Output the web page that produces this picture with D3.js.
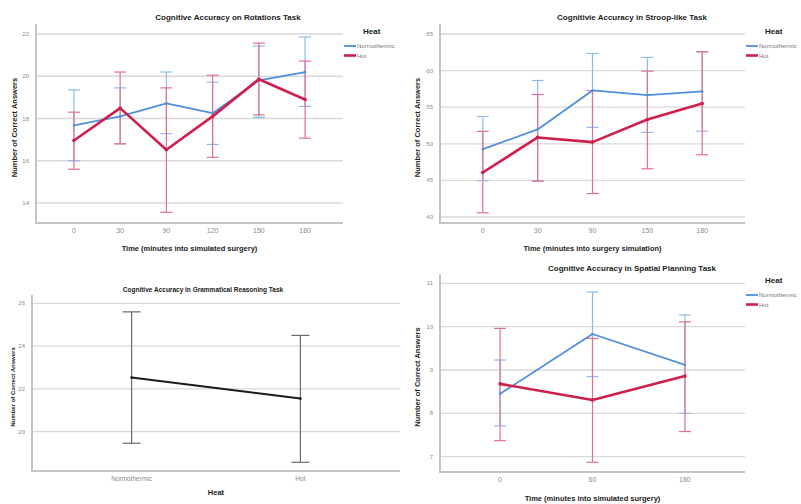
<!DOCTYPE html>
<html>
<head>
<meta charset="utf-8">
<script src="https://cdn.jsdelivr.net/npm/d3@7"></script>
<style>
  body { margin: 0; background: #fff; }
  svg { font-family: "Liberation Sans", Arial, sans-serif; }
  .grid line { stroke: #d9d9d9; stroke-width: 1.3; }
  .frame { stroke: #c4c4c4; stroke-width: 2; fill: none; }
  .tick-label { fill: #8a8a8a; font-size: 6px; }
  .title { font-weight: bold; font-size: 8px; fill: #222; }
  .axis-label { font-weight: bold; font-size: 7.5px; fill: #222; }
  .legend-title { font-weight: bold; font-size: 8px; fill: #222; }
  .legend-text { font-size: 6px; fill: #777; }
</style>
</head>
<body>
<script>
// ---- data ----
const heatGroups = ['Normothermic', 'Hot'];

// Rotations task
const rotTimes = ['0', '30', '90', '120', '150', '180'];
const rotNormoMean = [17.67, 18.1, 18.72, 18.25, 19.8, 20.2];
const rotNormoLow = [16.0, 16.8, 17.28, 16.77, 18.05, 18.57];
const rotNormoHigh = [19.35, 19.45, 20.2, 19.72, 21.43, 21.86];
const rotHotMean = [16.96, 18.49, 16.52, 18.1, 19.86, 18.9];
const rotHotLow = [15.6, 16.8, 13.56, 16.16, 18.17, 17.07];
const rotHotHigh = [18.3, 20.2, 19.45, 20.05, 21.57, 20.72];
const rotTicks = [14, 16, 18, 20, 22];

// Stroop-like task
const stroopTimes = ['0', '30', '90', '150', '180'];
const stroopNormoMean = [49.27, 51.96, 57.29, 56.65, 57.15];
const stroopNormoLow = [44.95, 44.95, 52.23, 51.55, 51.73];
const stroopNormoHigh = [53.73, 58.65, 62.34, 61.8, 62.57];
const stroopHotMean = [46.08, 50.87, 50.23, 53.32, 55.5];
const stroopHotLow = [40.57, 44.9, 43.2, 46.58, 48.5];
const stroopHotHigh = [51.7, 56.74, 57.26, 59.93, 62.57];
const stroopTicks = [40, 45, 50, 55, 60, 65];

// Grammatical reasoning task
const gramMean = [22.53, 21.55];
const gramLow = [19.46, 18.57];
const gramHigh = [25.6, 24.5];
const gramTicks = [20, 22, 24, 26];

// Spatial planning task
const spatTimes = ['0', '60', '180'];
const spatNormoMean = [8.45, 9.83, 9.12];
const spatNormoLow = [7.71, 8.85, 8.0];
const spatNormoHigh = [9.23, 10.8, 10.27];
const spatHotMean = [8.68, 8.31, 8.86];
const spatHotLow = [7.37, 6.87, 7.58];
const spatHotHigh = [9.96, 9.73, 10.11];
const spatTicks = [7, 8, 9, 10, 11];

const BLUE = '#4f8fdc';
const BLUE_ERR = '#8fb9ea';
const RED = '#cf1f4c';
const RED_ERR = '#e0708f';

const svg = d3.select('body').append('svg').attr('width', 801).attr('height', 504);

function drawPanel(p) {
  const g = svg.append('g');
  const x = d3.scalePoint().domain(p.categories).range([p.left, p.right]).padding(p.pad);
  const y = d3.scaleLinear().domain(p.domain).range([p.bottomGrid, p.topGrid]);

  // grid
  g.append('g').attr('class', 'grid')
    .selectAll('line').data(p.ticks).join('line')
    .attr('x1', p.left).attr('x2', p.right)
    .attr('y1', (d) => y(d)).attr('y2', (d) => y(d));

  // frame (left + bottom axis lines)
  g.append('path').attr('class', 'frame')
    .attr('d', `M${p.left},${p.axisTop}V${p.axisBottom}H${p.right}`);

  // y tick labels
  g.selectAll('text.yt').data(p.ticks).join('text')
    .attr('class', 'tick-label yt')
    .attr('x', p.left - 7).attr('y', (d) => y(d) + 2)
    .attr('text-anchor', 'end').text((d) => d);

  // x tick labels
  g.selectAll('text.xt').data(p.categories).join('text')
    .attr('class', 'tick-label xt')
    .attr('x', (d) => x(d)).attr('y', p.axisBottom + 10)
    .attr('text-anchor', 'middle')
    .style('font-size', p.xTickSize || '7px')
    .text((d) => d);

  // titles
  g.append('text').attr('class', 'title')
    .attr('x', p.titleX).attr('y', p.titleY)
    .attr('text-anchor', 'middle').style('font-size', p.titleSize || '8px')
    .text(p.title);
  g.append('text').attr('class', 'axis-label')
    .attr('x', (p.left + p.right) / 2).attr('y', p.xLabelY)
    .attr('text-anchor', 'middle').text(p.xLabel);
  g.append('text').attr('class', 'axis-label')
    .attr('transform', `translate(${p.yLabelX},${(p.axisTop + p.axisBottom) / 2 + 4}) rotate(-90)`)
    .attr('text-anchor', 'middle').style('font-size', p.yLabelSize || '7.5px')
    .text('Number of Correct Answers');

  const line = d3.line().x((d) => x(d.c)).y((d) => y(d.m));
  const capW = p.capW || 6;

  p.series.forEach((s) => {
    const rows = p.categories.map((c, i) => ({ c, m: s.mean[i], lo: s.low[i], hi: s.high[i] }));
    const eg = g.append('g').attr('stroke', s.errColor).attr('stroke-width', 1.2).attr('fill', 'none');
    eg.selectAll('line.v').data(rows).join('line')
      .attr('x1', (d) => x(d.c)).attr('x2', (d) => x(d.c))
      .attr('y1', (d) => y(d.lo)).attr('y2', (d) => y(d.hi));
    eg.selectAll('line.lo').data(rows).join('line')
      .attr('x1', (d) => x(d.c) - capW).attr('x2', (d) => x(d.c) + capW)
      .attr('y1', (d) => y(d.lo)).attr('y2', (d) => y(d.lo));
    eg.selectAll('line.hi').data(rows).join('line')
      .attr('x1', (d) => x(d.c) - capW).attr('x2', (d) => x(d.c) + capW)
      .attr('y1', (d) => y(d.hi)).attr('y2', (d) => y(d.hi));
  });
  p.series.forEach((s) => {
    const rows = p.categories.map((c, i) => ({ c, m: s.mean[i] }));
    g.append('path').datum(rows)
      .attr('fill', 'none').attr('stroke', s.color).attr('stroke-width', s.width)
      .attr('stroke-linejoin', 'round').attr('d', line);
    g.selectAll(null).data(rows).join('circle')
      .attr('cx', (d) => x(d.c)).attr('cy', (d) => y(d.m)).attr('r', s.width * 0.7)
      .attr('fill', s.color);
  });

  if (p.legend) {
    const lg = g.append('g').attr('transform', `translate(${p.legend.x},${p.legend.y})`);
    lg.append('text').attr('class', 'legend-title').attr('x', 19).attr('y', 0).text('Heat');
    p.series.forEach((s, i) => {
      lg.append('line').attr('x1', 0).attr('x2', 12)
        .attr('y1', 12 + i * 9.5).attr('y2', 12 + i * 9.5)
        .attr('stroke', s.color).attr('stroke-width', s.width);
      lg.append('text').attr('class', 'legend-text')
        .attr('x', 13).attr('y', 14 + i * 9.5).text(heatGroups[i]);
    });
  }
}

drawPanel({
  categories: rotTimes, domain: [14, 22], ticks: rotTicks,
  left: 36, right: 343, pad: 0.82, topGrid: 34, bottomGrid: 203,
  axisTop: 24, axisBottom: 223,
  title: 'Cognitive Accuracy on Rotations Task', titleX: 228, titleY: 20,
  xLabel: 'Time (minutes into simulated surgery)', xLabelY: 251, yLabelX: 17,
  series: [
    { mean: rotNormoMean, low: rotNormoLow, high: rotNormoHigh, color: BLUE, errColor: BLUE_ERR, width: 1.8 },
    { mean: rotHotMean, low: rotHotLow, high: rotHotHigh, color: RED, errColor: RED_ERR, width: 2.6 }
  ],
  legend: { x: 344, y: 34 }
});

drawPanel({
  categories: stroopTimes, domain: [40, 65], ticks: stroopTicks,
  left: 440, right: 745, pad: 0.78, topGrid: 34, bottomGrid: 217,
  axisTop: 24, axisBottom: 223,
  title: 'Cognitivie Accuracy in Stroop-like Task', titleX: 632, titleY: 20,
  xLabel: 'Time (minutes into surgery simulation)', xLabelY: 251, yLabelX: 420,
  series: [
    { mean: stroopNormoMean, low: stroopNormoLow, high: stroopNormoHigh, color: BLUE, errColor: BLUE_ERR, width: 1.8 },
    { mean: stroopHotMean, low: stroopHotLow, high: stroopHotHigh, color: RED, errColor: RED_ERR, width: 2.6 }
  ],
  legend: { x: 746, y: 34 }
});

drawPanel({
  categories: heatGroups, domain: [20, 26], ticks: gramTicks,
  left: 32, right: 400, pad: 0.59, topGrid: 303.3, bottomGrid: 431.7,
  axisTop: 295, axisBottom: 471,
  title: 'Cognitive Accuracy in Grammatical Reasoning Task', titleX: 203, titleY: 292, titleSize: '6.5px',
  xLabel: 'Heat', xLabelY: 495, yLabelX: 15, yLabelSize: '6px', xTickSize: '6.5px', capW: 9,
  series: [
    { mean: gramMean, low: gramLow, high: gramHigh, color: '#1a1a1a', errColor: '#6b6b6b', width: 2 }
  ]
});

drawPanel({
  categories: spatTimes, domain: [7, 11], ticks: spatTicks,
  left: 440, right: 745, pad: 0.65, topGrid: 283.3, bottomGrid: 456.7,
  axisTop: 274, axisBottom: 472,
  title: 'Cognitive Accuracy in Spatial Planning Task', titleX: 632, titleY: 271,
  xLabel: 'Time (minutes into simulated surgery)', xLabelY: 501, yLabelX: 420,
  series: [
    { mean: spatNormoMean, low: spatNormoLow, high: spatNormoHigh, color: BLUE, errColor: BLUE_ERR, width: 1.8 },
    { mean: spatHotMean, low: spatHotLow, high: spatHotHigh, color: RED, errColor: RED_ERR, width: 2.6 }
  ],
  legend: { x: 746, y: 283 }
});
</script>
</body>
</html>
